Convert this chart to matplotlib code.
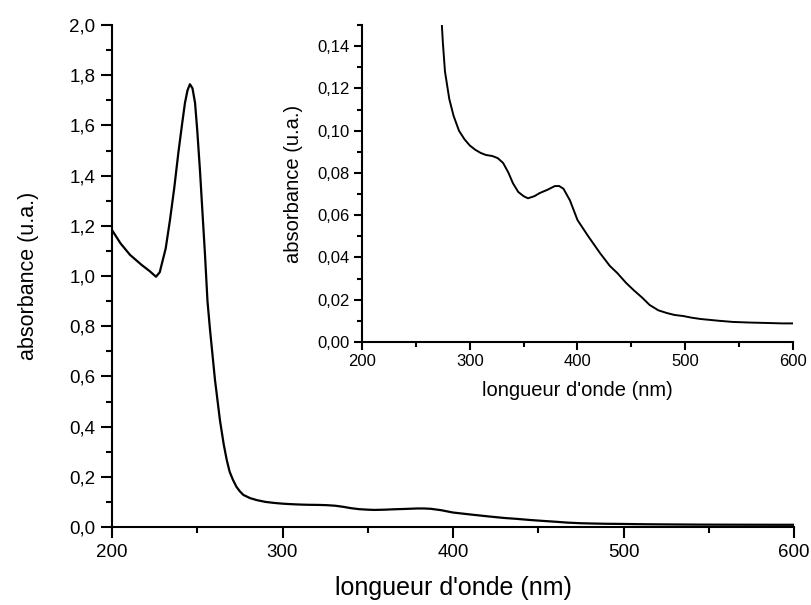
import matplotlib
matplotlib.use("Agg")
import matplotlib.pyplot as plt
from matplotlib.ticker import MultipleLocator, FuncFormatter

plt.rcParams['font.family'] = ['Liberation Sans', 'DejaVu Sans']

wavelength = [200, 205, 210.6, 217.4, 222, 225.8, 228, 231.5, 234, 236.5, 238.9,
              241, 242.8, 244.3, 245.7, 247.2, 248.7, 250, 251.6, 253, 254.5,
              256, 257.5, 260.4, 263.3, 265.5, 267.3, 269, 271, 273, 275, 277,
              281, 285, 290, 295, 300, 305, 310, 315, 321, 326, 331, 336, 340,
              345, 350, 354, 360, 365, 372, 379, 383, 387, 393, 400, 410, 421,
              430, 437, 445, 452, 460, 467, 475, 483, 490, 498, 506, 514, 530,
              544, 560, 576, 590, 600]
absorbance = [1.183, 1.13, 1.084, 1.044, 1.02, 0.997, 1.015, 1.11, 1.223, 1.35, 1.49,
              1.60, 1.69, 1.74, 1.764, 1.748, 1.69, 1.58, 1.42, 1.26, 1.09,
              0.90, 0.785, 0.586, 0.426, 0.33, 0.267, 0.22, 0.187, 0.160, 0.142, 0.128,
              0.115, 0.107, 0.100, 0.096, 0.093, 0.091, 0.0895, 0.0885, 0.088, 0.087,
              0.0847, 0.080, 0.0752, 0.071, 0.069, 0.068, 0.069, 0.0705, 0.072,
              0.0738, 0.0738, 0.0725, 0.067, 0.0577, 0.050, 0.042, 0.036, 0.0326,
              0.028, 0.0246, 0.021, 0.0175, 0.015, 0.0137, 0.0128, 0.0123, 0.0115,
              0.0109, 0.0101, 0.0095, 0.0092, 0.0090, 0.0088, 0.0088]

xlabel = "longueur d'onde (nm)"
ylabel = "absorbance (u.a.)"

def comma(decimals):
    return FuncFormatter(lambda v, p: f"{v:.{decimals}f}".replace('.', ','))

fig = plt.figure(figsize=(8.12, 6.05), dpi=100)

# main axes
ax = fig.add_axes([112/812, 1-527/605, (794-112)/812, (527-25)/605])
ax.plot(wavelength, absorbance, color='black', lw=1.6, solid_joinstyle='round')
ax.set_xlim(200, 600)
ax.set_ylim(0, 2.0)
ax.xaxis.set_major_locator(MultipleLocator(100))
ax.xaxis.set_minor_locator(MultipleLocator(50))
ax.yaxis.set_major_locator(MultipleLocator(0.2))
ax.yaxis.set_minor_locator(MultipleLocator(0.1))
ax.yaxis.set_major_formatter(comma(1))
for s in ['top', 'right']:
    ax.spines[s].set_visible(False)
for s in ['left', 'bottom']:
    ax.spines[s].set_linewidth(1.5)
ax.tick_params(which='major', direction='out', length=8, width=1.5, labelsize=13.5, pad=4)
ax.tick_params(which='minor', direction='out', length=4.5, width=1.5)
ax.set_xlabel(xlabel, fontsize=18, labelpad=11)
ax.set_ylabel(ylabel, fontsize=15.5, labelpad=22)

# inset axes
ins = fig.add_axes([362/812, 1-342/605, (793-362)/812, (342-25)/605])
ins.plot(wavelength, absorbance, color='black', lw=1.4, solid_joinstyle='round')
ins.set_xlim(200, 600)
ins.set_ylim(0, 0.15)
ins.xaxis.set_major_locator(MultipleLocator(100))
ins.xaxis.set_minor_locator(MultipleLocator(50))
ins.yaxis.set_major_locator(MultipleLocator(0.02))
ins.yaxis.set_minor_locator(MultipleLocator(0.01))
ins.yaxis.set_major_formatter(comma(2))
for s in ['top', 'right']:
    ins.spines[s].set_visible(False)
for s in ['left', 'bottom']:
    ins.spines[s].set_linewidth(1.5)
ins.tick_params(which='major', direction='out', length=6, width=1.5, labelsize=12, pad=3)
ins.tick_params(which='minor', direction='out', length=3.5, width=1.5)
ins.set_xlabel(xlabel, fontsize=14.5, labelpad=8)
ins.set_ylabel(ylabel, fontsize=14.5, labelpad=10)

fig.savefig('out.png', dpi=100)
